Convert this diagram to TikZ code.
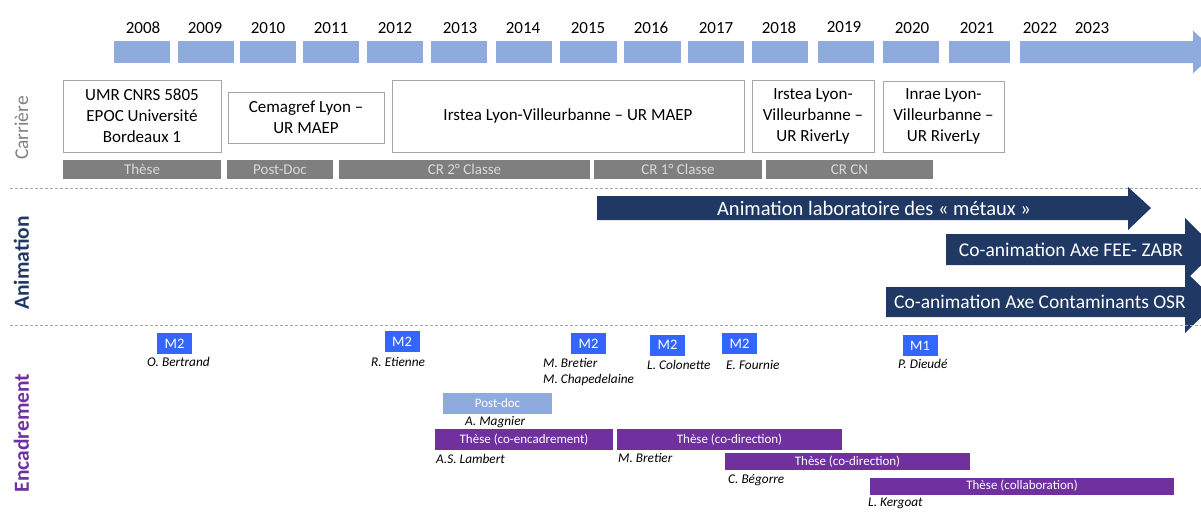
\documentclass[tikz,border=0pt]{standalone}
\usepackage{fontspec}
\setmainfont{Carlito}

\definecolor{yearblue}{HTML}{8FAADC}
\definecolor{bargray}{HTML}{7F7F7F}
\definecolor{boxline}{HTML}{A6A6A6}
\definecolor{navy}{HTML}{203864}
\definecolor{mblue}{HTML}{3366FF}
\definecolor{thpurple}{HTML}{7030A0}

\tikzset{
  yearlab/.style={anchor=base, inner sep=0, font=\fontsize{17}{20}\selectfont},
  yearbox/.style={fill=yearblue, inner sep=0, minimum height=22},
  placebox/.style={draw=boxline, line width=1, align=center, inner sep=0,
                   font=\fontsize{17}{21}\selectfont},
  gradebar/.style={fill=bargray, text=white!85!black, inner sep=0, minimum height=19,
                   font=\fontsize{15}{17}\selectfont},
  sepline/.style={boxline, line width=1, dash pattern=on 3pt off 2pt},
  rowlab/.style={rotate=90, inner sep=0},
  arrtext/.style={text=white, inner sep=0, font=\fontsize{19.5}{22}\selectfont},
  mbox/.style={fill=mblue, text=white, inner sep=0, minimum width=35, minimum height=21,
               font=\fontsize{14.5}{16}\selectfont},
  thbox/.style={fill=thpurple, text=white, inner sep=0, font=\fontsize{13}{15}\selectfont},
  student/.style={anchor=base west, inner sep=0, font=\fontsize{13.3}{15}\selectfont\itshape}
}

\begin{document}
\begin{tikzpicture}[x=1pt,y=-1pt]
  \useasboundingbox (0,0) rectangle (1201,512);

  % time line
  \node[yearbox, minimum width=56] (b08) at (142,52) {};
  \node[yearbox, minimum width=56] (b09) at (206,52) {};
  \node[yearbox, minimum width=56] (b10) at (268,52) {};
  \node[yearbox, minimum width=56] (b11) at (331,52) {};
  \node[yearbox, minimum width=56] (b12) at (395,52) {};
  \node[yearbox, minimum width=56] (b13) at (459,52) {};
  \node[yearbox, minimum width=56] (b14) at (524,52) {};
  \node[yearbox, minimum width=57] (b15) at (588.5,52) {};
  \node[yearbox, minimum width=57] (b16) at (652.5,52) {};
  \node[yearbox, minimum width=56] (b17) at (716,52) {};
  \node[yearbox, minimum width=56] (b18) at (780,52) {};
  \node[yearbox, minimum width=56] (b19) at (846,52) {};
  \node[yearbox, minimum width=56] (b20) at (911,52) {};
  \node[yearbox, minimum width=61] (b21) at (979.5,52) {};
  \fill[yearblue] (1020,41) -- (1193,41) -- (1193,30.5) -- (1216,52) -- (1193,73.5)
        -- (1193,63) -- (1020,63) -- cycle;

  \node[yearlab] (t08) at (143,33) {2008};
  \node[yearlab] (t09) at (205,33) {2009};
  \node[yearlab] (t10) at (268,33) {2010};
  \node[yearlab] (t11) at (331,33) {2011};
  \node[yearlab] (t12) at (395,33) {2012};
  \node[yearlab] (t13) at (460,33) {2013};
  \node[yearlab] (t14) at (523,33) {2014};
  \node[yearlab] (t15) at (588,33) {2015};
  \node[yearlab] (t16) at (651,33) {2016};
  \node[yearlab] (t17) at (716,33) {2017};
  \node[yearlab] (t18) at (779,33) {2018};
  \node[yearlab] (t19) at (844,32) {2019};
  \node[yearlab] (t20) at (912,33) {2020};
  \node[yearlab] (t21) at (977,33) {2021};
  \node[yearlab] (t22) at (1040,33) {2022};
  \node[yearlab] (t23) at (1092,33) {2023};

  % Carriere
  \node[rowlab, text=bargray, font=\fontsize{19.5}{22}\selectfont] (carr) at (21.5,128) {Carrière};
  \node[placebox, minimum width=158, minimum height=72] (umr) at (142,116)
       {UMR CNRS 5805\\EPOC Université\\Bordeaux 1};
  \node[placebox, minimum width=156, minimum height=51] (cema) at (306,117.5)
       {Cemagref Lyon --\\UR MAEP};
  \node[placebox, minimum width=352, minimum height=72] (irsa) at (568,116)
       {Irstea Lyon-Villeurbanne -- UR MAEP};
  \node[placebox, minimum width=122, minimum height=72] (irsb) at (813,116)
       {Irstea Lyon-\\Villeurbanne --\\UR RiverLy};
  \node[placebox, minimum width=121, minimum height=71] (inrae) at (943.5,116.5)
       {Inrae Lyon-\\Villeurbanne --\\UR RiverLy};

  \node[gradebar, minimum width=158] (these) at (142,169.5) {Thèse};
  \node[gradebar, minimum width=106] (pdoc) at (280,169.5) {Post-Doc};
  \node[gradebar, minimum width=251] (cr2) at (464.5,169.5) {CR 2° Classe};
  \node[gradebar, minimum width=168] (cr1) at (678,169.5) {CR 1° Classe};
  \node[gradebar, minimum width=167] (crcn) at (849.5,169.5) {CR CN};

  \draw[sepline] (10,188) -- (1201,188);

  % Animation
  \node[rowlab, text=navy, font=\fontsize{21.5}{24}\selectfont\bfseries] (anim) at (21.5,263) {Animation};
  \fill[navy] (597,196) -- (1128,196) -- (1128,187) -- (1151,208) -- (1128,230)
        -- (1128,220) -- (597,220) -- cycle;
  \node[arrtext, font=\fontsize{20.5}{23}\selectfont] (labo) at (874,208) {Animation laboratoire des « métaux »};
  \fill[navy] (946,234) -- (1185,234) -- (1185,218) -- (1217,249.5) -- (1185,281)
        -- (1185,265) -- (946,265) -- cycle;
  \node[arrtext] (zabr) at (1071,249.5) {Co-animation Axe FEE- ZABR};
  \fill[navy] (886,287) -- (1185,287) -- (1185,271) -- (1217,302) -- (1185,333)
        -- (1185,317) -- (886,317) -- cycle;
  \node[arrtext] (osr) at (1040,302) {Co-animation Axe Contaminants OSR};

  \draw[sepline] (10,325) -- (1201,325);

  % Encadrement
  \node[rowlab, text=thpurple, font=\fontsize{21.5}{24}\selectfont\bfseries] (enca) at (21.5,433) {Encadrement};

  \node[mbox] (mber) at (174.5,343.5) {M2};
  \node[mbox] (meti) at (402,341.5) {M2};
  \node[mbox] (mbre) at (588.5,343.5) {M2};
  \node[mbox] (mcol) at (667.5,345) {M2};
  \node[mbox] (mfou) at (739.5,343.5) {M2};
  \node[mbox] (mdie) at (920,345.5) {M1};

  \node[student] (sber) at (147,366) {O. Bertrand};
  \node[student] (seti) at (371,366) {R. Etienne};
  \node[student] (sbre) at (543,367.5) {M. Bretier};
  \node[student] (scha) at (543,383.5) {M. Chapedelaine};
  \node[student] (scol) at (647,369) {L. Colonette};
  \node[student] (sfou) at (726,369) {E. Fournie};
  \node[student] (sdie) at (898,368) {P. Dieudé};

  \node[thbox, fill=yearblue, minimum width=109, minimum height=21] (pmag) at (497.5,403.5) {Post-doc};
  \node[student] (smag) at (465,425.5) {A. Magnier};

  \node[thbox, minimum width=178, minimum height=21] (tlam) at (524,439.5) {Thèse (co-encadrement)};
  \node[student] (slam) at (436,463) {A.S. Lambert};
  \node[thbox, minimum width=225, minimum height=21] (tbre) at (729.5,439.5) {Thèse (co-direction)};
  \node[student] (sbre2) at (618,462.5) {M. Bretier};
  \node[thbox, minimum width=245, minimum height=17] (tbeg) at (847.5,461.5) {Thèse (co-direction)};
  \node[student] (sbeg) at (728,483) {C. Bégorre};
  \node[thbox, minimum width=304, minimum height=17] (tker) at (1022,486) {Thèse (collaboration)};
  \node[student] (sker) at (868,506) {L. Kergoat};
\end{tikzpicture}
\end{document}
